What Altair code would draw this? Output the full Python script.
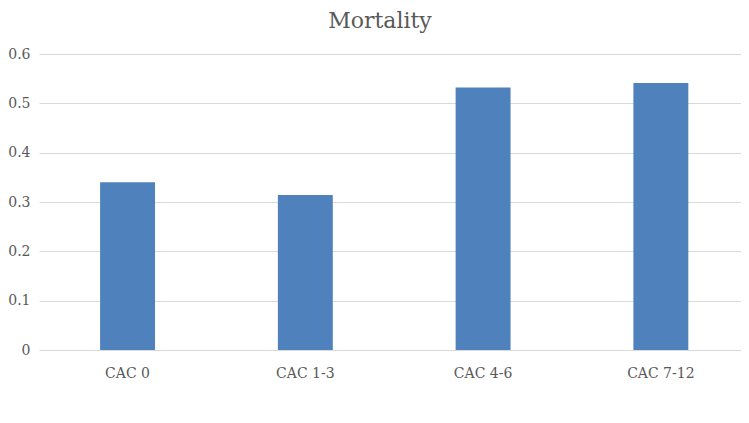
import altair as alt
import pandas as pd

categories = ["CAC 0", "CAC 1-3", "CAC 4-6", "CAC 7-12"]
mortality = [0.34, 0.314, 0.532, 0.541]

df = pd.DataFrame({"cat": categories, "val": mortality})

FONT = "DejaVu Serif"
GREY = "#595959"

chart = alt.Chart(df).mark_bar(color="#4F81BD").encode(
    x=alt.X("cat:N", sort=categories, title=None,
            scale=alt.Scale(paddingInner=0.691, paddingOuter=0.32, align=0.537),
            axis=alt.Axis(labelAngle=0, domain=False, ticks=False, grid=False,
                          labelFont=FONT, labelFontSize=14, labelColor=GREY,
                          labelPadding=16)),
    y=alt.Y("val:Q", title=None,
            scale=alt.Scale(domain=[0, 0.6], nice=False),
            axis=alt.Axis(values=[0, 0.1, 0.2, 0.3, 0.4, 0.5, 0.6], format="~g",
                          domain=False, ticks=False, gridColor="#d9d9d9", gridWidth=1,
                          labelFont=FONT, labelFontSize=14, labelColor=GREY,
                          labelPadding=9)),
).properties(
    width=702, height=296,
    title=alt.TitleParams("Mortality", font=FONT, fontSize=22, color=GREY,
                          fontWeight="normal", anchor="middle", dx=-10, offset=14),
    autosize=alt.AutoSizeParams(type="none"),
    padding={"left": 31, "top": 46, "right": 0, "bottom": 50},
).configure_view(stroke=None)

chart.save("out.html", embed_options={"renderer": "svg", "actions": False})
